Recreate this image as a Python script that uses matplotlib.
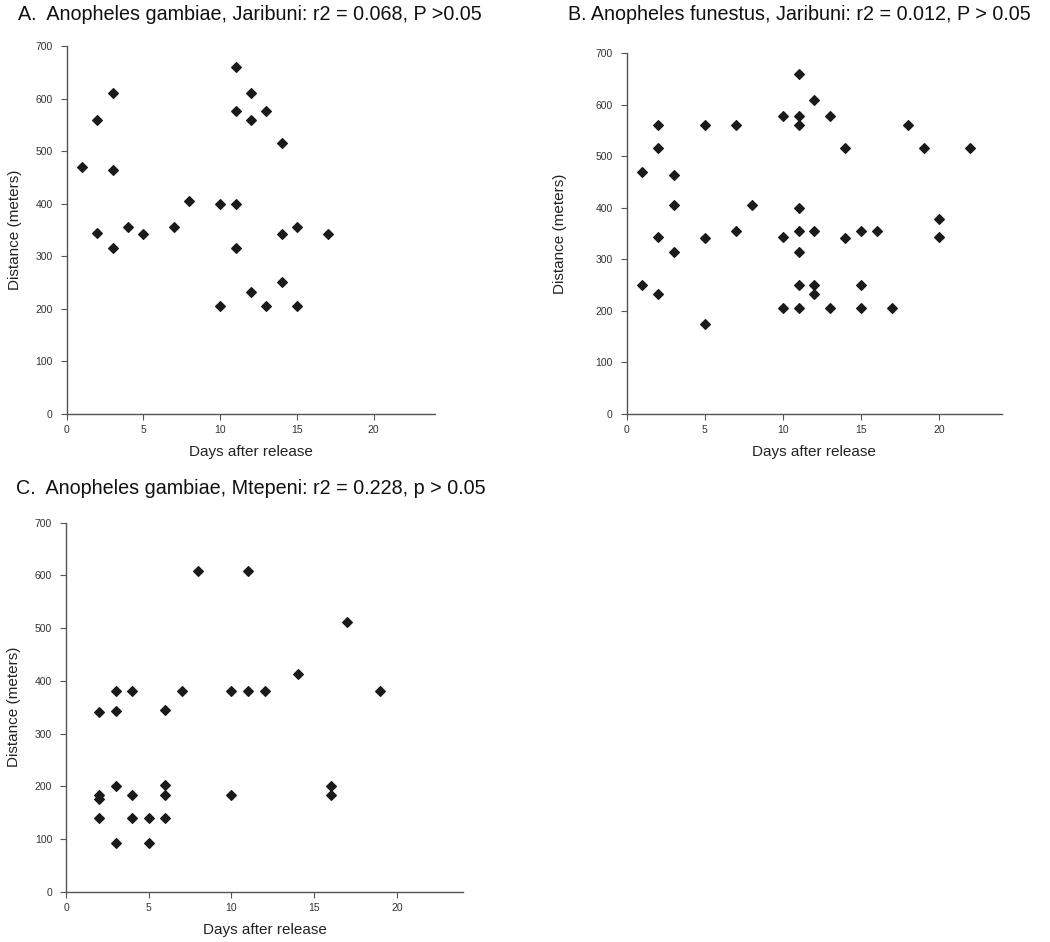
import matplotlib
matplotlib.use("Agg")
import matplotlib.pyplot as plt
from matplotlib import font_manager

### DATA ###

# A. Anopheles gambiae, Jaribuni
a_days = [1, 2, 2, 3, 3, 3, 4, 5, 7, 8, 10, 10, 11, 11, 11, 11, 12, 12, 12, 13, 13, 14, 14, 14, 15, 15, 17]
a_dist = [470, 560, 345, 610, 465, 315, 355, 342, 355, 405, 400, 205, 660, 577, 400, 315, 610, 560, 233, 577, 205, 515, 342, 251, 355, 205, 342]

# B. Anopheles funestus, Jaribuni
b_days = [1, 1, 2, 2, 2, 2, 3, 3, 3, 5, 5, 5, 7, 7, 8, 10, 10, 10, 11, 11, 11, 11, 11, 11, 11, 11,
          12, 12, 12, 12, 13, 13, 14, 14, 15, 15, 15, 16, 17, 18, 19, 20, 20, 22]
b_dist = [470, 251, 560, 515, 344, 233, 463, 405, 315, 560, 342, 175, 560, 355, 405, 577, 344, 205,
          660, 577, 560, 400, 355, 315, 251, 205, 609, 355, 251, 233, 577, 205, 515, 342, 355, 251, 205,
          355, 205, 560, 515, 378, 343, 515]

# C. Anopheles gambiae, Mtepeni
c_days = [2, 2, 2, 2, 3, 3, 3, 3, 4, 4, 4, 5, 5, 6, 6, 6, 6, 7, 8, 10, 10, 11, 11, 12, 14, 16, 16, 17, 19]
c_dist = [340, 184, 175, 140, 381, 343, 201, 93, 381, 184, 140, 140, 93, 344, 202, 184, 140, 381, 608,
          381, 184, 608, 381, 381, 413, 201, 184, 512, 381]

titles = ["A.  Anopheles gambiae, Jaribuni: r2 = 0.068, P >0.05",
          "B. Anopheles funestus, Jaribuni: r2 = 0.012, P > 0.05",
          "C.  Anopheles gambiae, Mtepeni: r2 = 0.228, p > 0.05"]
x_ticks = [0, 5, 10, 15, 20]
y_ticks = [0, 100, 200, 300, 400, 500, 600, 700]

### SETTINGS ###

W, H = 1050, 942
names = {f.name for f in font_manager.fontManager.ttflist}
narrow = "Liberation Sans Narrow" if "Liberation Sans Narrow" in names else "Liberation Sans"
plt.rcParams["font.family"] = ["Liberation Sans", "DejaVu Sans"]

fig = plt.figure(figsize=(W / 100, H / 100), dpi=100)


def px_axes(left, right, top, bottom):
    return fig.add_axes([left / W, 1 - bottom / H, (right - left) / W, (bottom - top) / H])


# axes box (left, right, top, bottom in px), title position, ylabel pad
panels = [
    (a_days, a_dist, (66.7, 435, 46, 414), (18, 15), 10),
    (b_days, b_dist, (626.7, 1001.7, 53, 414), (568, 15), 20.5),
    (c_days, c_dist, (66, 463, 522.7, 891.7), (16, 488), 10),
]

for (days, dist, box, tpos, ypad), title in zip(panels, titles):
    ax = px_axes(*box)
    ax.scatter(days, dist, marker="D", s=24, color="#1a1a1a", clip_on=False, zorder=3)
    ax.set_xlim(0, 24)
    ax.set_ylim(0, 700)
    ax.set_xticks(x_ticks)
    ax.set_yticks(y_ticks)
    for side in ["top", "right"]:
        ax.spines[side].set_visible(False)
    for side in ["left", "bottom"]:
        ax.spines[side].set_color("#555555")
        ax.spines[side].set_linewidth(1.0)
    ax.tick_params(length=4, width=0.8, color="#555555", labelcolor="#333333", labelsize=7.5)
    ax.tick_params(axis="x", pad=4)
    ax.tick_params(axis="y", pad=6)
    for lab in ax.get_xticklabels() + ax.get_yticklabels():
        lab.set_family([narrow, "DejaVu Sans"])
    ax.set_xlabel("Days after release", fontsize=11, color="#222222", labelpad=7)
    ax.set_ylabel("Distance (meters)", fontsize=11, color="#222222", labelpad=ypad)
    fig.text(tpos[0] / W, 1 - tpos[1] / H, title, fontsize=14.2, color="#111111",
             ha="left", va="center", family=[narrow, "DejaVu Sans"])

fig.savefig("out.png", dpi=100)
